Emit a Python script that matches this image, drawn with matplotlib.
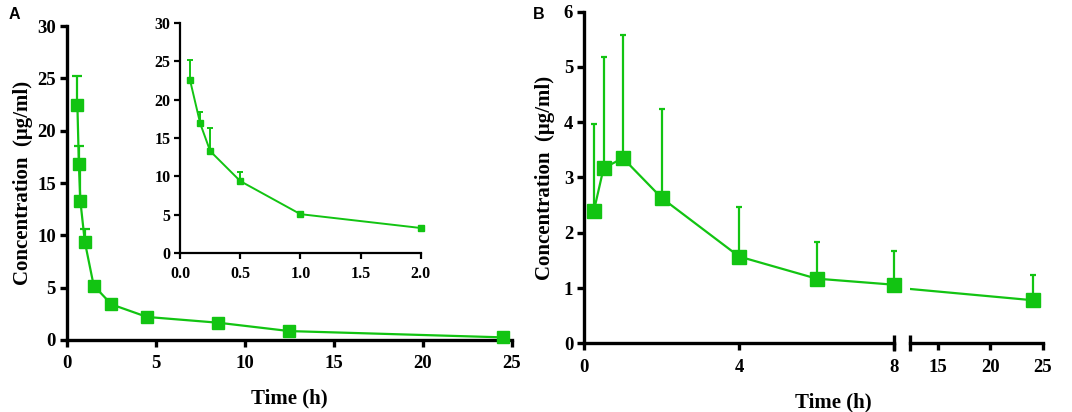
import numpy as np
import matplotlib.pyplot as plt

# panel A, main plot (the curve is drawn shifted by half an hour)
a_time = [0.583, 0.667, 0.75, 1.0, 1.5, 2.5, 4.5, 8.5, 12.5, 24.5]
a_conc = [22.5, 16.8, 13.3, 9.4, 5.2, 3.4, 2.2, 1.65, 0.85, 0.25]
a_err = [2.7, 1.7, 3.0, 1.2, 0, 0, 0, 0, 0, 0]

# panel A, inset (first 2 h)
in_time = [0.083, 0.167, 0.25, 0.5, 1.0, 2.0]
in_conc = [22.5, 16.9, 13.3, 9.4, 5.1, 3.3]
in_err = [2.7, 1.5, 3.0, 1.2, 0, 0]

# panel B
b_time = [0.25, 0.5, 1, 2, 4, 6, 8, 24]
b_conc = [2.4, 3.17, 3.35, 2.63, 1.57, 1.17, 1.06, 0.78]
b_err = [1.57, 2.01, 2.22, 1.6, 0.9, 0.66, 0.61, 0.46]

green = '#12c412'
serif = 'Liberation Serif'

plt.rcParams['font.family'] = serif
plt.rcParams['font.weight'] = 'bold'

fig = plt.figure(figsize=(10.72, 4.12), dpi=100)


def style(ax, lw=2.4, size=13.5, tl=5, xpad=6):
    for s in ['top', 'right']:
        ax.spines[s].set_visible(False)
    for s in ['left', 'bottom']:
        ax.spines[s].set_linewidth(lw)
    ax.tick_params(width=lw, length=tl, labelsize=size, direction='out', pad=3)
    ax.tick_params(axis='x', pad=xpad)
    for lab in ax.get_xticklabels() + ax.get_yticklabels():
        lab.set_fontweight('bold')


def curve(ax, x, y, err, ms, lw, cap):
    err = np.array(err)
    ax.errorbar(x, y, yerr=[np.zeros_like(err), err], color=green, lw=lw,
                elinewidth=lw, capsize=cap, capthick=lw, marker='s', ms=ms,
                mec=green, mfc=green, clip_on=False, zorder=3)


# ---- panel A ----
axA = fig.add_axes([0.0625, 0.1748, 0.415, 0.762])
curve(axA, a_time, a_conc, a_err, 8.6, 1.6, 3.5)
axA.set_xlim(0, 25)
axA.set_ylim(0, 30)
axA.set_xticks([0, 5, 10, 15, 20, 25])
axA.set_yticks([0, 5, 10, 15, 20, 25, 30])
style(axA)
axA.set_xlabel('Time (h)', fontsize=15, fontweight='bold', labelpad=12)
axA.set_ylabel('Concentration  (μg/ml)', fontsize=15, fontweight='bold', labelpad=3)

axIn = fig.add_axes([0.168, 0.385, 0.2245, 0.56])
curve(axIn, in_time, in_conc, in_err, 5, 1.4, 2.5)
axIn.set_xlim(0, 2.0)
axIn.set_ylim(0, 30)
axIn.set_xticks([0.0, 0.5, 1.0, 1.5, 2.0])
axIn.set_xticklabels(['0.0', '0.5', '1.0', '1.5', '2.0'])
axIn.set_yticks([0, 5, 10, 15, 20, 25, 30])
style(axIn, lw=1.6, size=11.5, tl=4, xpad=5)

# ---- panel B (broken x axis) ----
axB1 = fig.add_axes([0.545, 0.1667, 0.289, 0.805])
axB2 = fig.add_axes([0.849, 0.1667, 0.124, 0.805])
curve(axB1, b_time[:-1], b_conc[:-1], b_err[:-1], 9.5, 1.6, 2.2)
axB2.plot(b_time[-2:], b_conc[-2:], color=green, lw=1.6)
curve(axB2, b_time[-1:], b_conc[-1:], b_err[-1:], 9.5, 1.6, 2.2)

axB1.set_xlim(0, 8)
axB1.set_xticks([0, 4, 8])
axB2.set_xlim(12.4, 25)
axB2.set_xticks([15, 20, 25])
for ax in [axB1, axB2]:
    ax.set_ylim(0, 6)
    style(ax)
axB1.set_yticks([0, 1, 2, 3, 4, 5, 6])
axB2.spines['left'].set_visible(False)
axB2.tick_params(axis='y', left=False, labelleft=False)

# end marks at the axis break
axB1.plot([1], [0], transform=axB1.transAxes, marker='|', ms=11, mew=2.4,
          color='black', clip_on=False)
axB2.plot([0], [0], transform=axB2.transAxes, marker='|', ms=11, mew=2.4,
          color='black', clip_on=False)

axB1.set_ylabel('Concentration  (μg/ml)', fontsize=15, fontweight='bold', labelpad=6)
fig.text(0.777, 0.012, 'Time (h)', fontsize=15, fontweight='bold', ha='center')

fig.text(0.008, 0.955, 'A', family='Liberation Sans', fontsize=11.5, fontweight='bold')
fig.text(0.497, 0.955, 'B', family='Liberation Sans', fontsize=11.5, fontweight='bold')

fig.savefig('out.png', dpi=100)
